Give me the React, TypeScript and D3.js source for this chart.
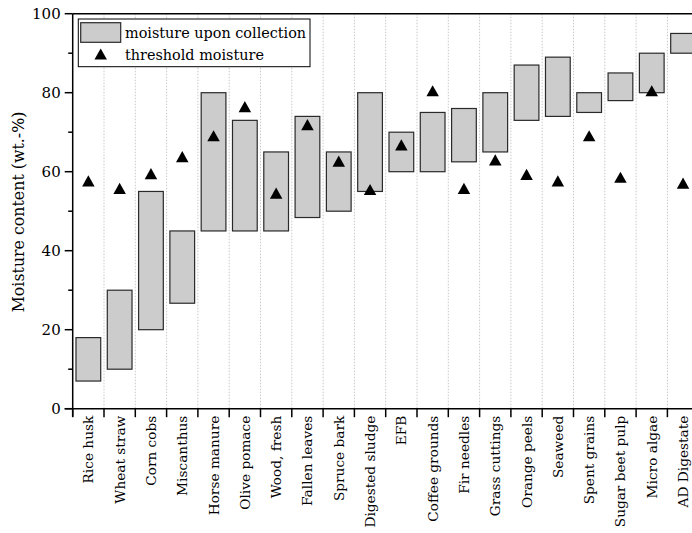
import React, { useEffect, useRef } from "react";
import * as d3 from "d3";

const categories = [
  "Rice husk", "Wheat straw", "Corn cobs", "Miscanthus", "Horse manure",
  "Olive pomace", "Wood, fresh", "Fallen leaves", "Spruce bark", "Digested sludge",
  "EFB", "Coffee grounds", "Fir needles", "Grass cuttings", "Orange peels",
  "Seaweed", "Spent grains", "Sugar beet pulp", "Micro algae", "AD Digestate",
];
// moisture upon collection: range low..high (wt.-%)
const moistureLow = [7, 10, 20, 26.7, 45, 45, 45, 48.4, 50, 55, 60, 60, 62.5, 65, 73, 74, 75, 78, 80, 90];
const moistureHigh = [18, 30, 55, 45, 80, 73, 65, 74, 65, 80, 70, 75, 76, 80, 87, 89, 80, 85, 90, 95];
// threshold moisture (wt.-%)
const threshold = [57.7, 55.8, 59.5, 63.8, 69.1, 76.5, 54.6, 71.9, 62.7, 55.5, 66.8, 80.5, 55.8, 63.0, 59.3, 57.7, 69.1, 58.6, 80.5, 57.1];
const yTicks = [0, 20, 40, 60, 80, 100];
const yMinorTicks = [10, 30, 50, 70, 90];

const W = 692;
const H = 533;
const FONT = "'DejaVu Serif', serif";

export default function App() {
  const ref = useRef<SVGSVGElement>(null);

  useEffect(() => {
    const svg = d3.select(ref.current);
    svg.selectAll("*").remove();

    const left = 72.7, right = 698.7, top = 13.7, bottom = 408.7;
    const x = d3.scaleBand<string>().domain(categories).range([left, right]).paddingInner(0.21).paddingOuter(0.105);
    const y = d3.scaleLinear().domain([0, 100]).range([bottom, top]);
    const step = x.step();
    const boundaries = d3.range(categories.length + 1).map((i) => left + i * step);

    const g = svg.append("g");

    // vertical dotted grid at category boundaries
    g.selectAll("line.grid")
      .data(boundaries.slice(1))
      .join("line")
      .attr("x1", (d) => d).attr("x2", (d) => d)
      .attr("y1", top).attr("y2", bottom)
      .attr("stroke", "#c8c8c8").attr("stroke-width", 1)
      .attr("stroke-dasharray", "1.5,1.5");

    // range bars
    g.selectAll("rect.bar")
      .data(categories)
      .join("rect")
      .attr("x", (d) => x(d)!)
      .attr("width", x.bandwidth())
      .attr("y", (_, i) => y(moistureHigh[i]))
      .attr("height", (_, i) => y(moistureLow[i]) - y(moistureHigh[i]))
      .attr("fill", "#cccccc").attr("stroke", "#2a2a2a").attr("stroke-width", 1.2);

    // threshold triangles
    const tri = (cx: number, cy: number, w = 12.5, h = 11.2) =>
      `M${cx},${cy - h / 2}L${cx + w / 2},${cy + h / 2}L${cx - w / 2},${cy + h / 2}Z`;
    g.selectAll("path.tri")
      .data(categories)
      .join("path")
      .attr("d", (d, i) => tri(x(d)! + x.bandwidth() / 2, y(threshold[i])))
      .attr("fill", "#000");

    // y axis
    const yAxis = g.append("g");
    yAxis.append("line").attr("x1", left).attr("x2", left).attr("y1", top).attr("y2", bottom + 8)
      .attr("stroke", "#000").attr("stroke-width", 1.5);
    yAxis.selectAll("line.maj").data(yTicks).join("line")
      .attr("x1", left - 8).attr("x2", left).attr("y1", (d) => y(d)).attr("y2", (d) => y(d))
      .attr("stroke", "#000").attr("stroke-width", 1.5);
    yAxis.selectAll("line.min").data(yMinorTicks).join("line")
      .attr("x1", left - 4.5).attr("x2", left).attr("y1", (d) => y(d)).attr("y2", (d) => y(d))
      .attr("stroke", "#000").attr("stroke-width", 1.5);
    yAxis.selectAll("text").data(yTicks).join("text")
      .attr("x", left - 12).attr("y", (d) => y(d)).attr("dy", "0.35em")
      .attr("text-anchor", "end").attr("font-family", FONT).attr("font-size", 15)
      .attr("fill", "#000").text((d) => d);

    // top border
    g.append("line").attr("x1", left).attr("x2", right).attr("y1", top).attr("y2", top)
      .attr("stroke", "#000").attr("stroke-width", 1.5);

    // x axis
    const xAxis = g.append("g");
    xAxis.append("line").attr("x1", left - 8).attr("x2", right).attr("y1", bottom).attr("y2", bottom)
      .attr("stroke", "#000").attr("stroke-width", 1.5);
    xAxis.selectAll("line.tick").data(boundaries).join("line")
      .attr("x1", (d) => d).attr("x2", (d) => d).attr("y1", bottom).attr("y2", bottom + 8.5)
      .attr("stroke", "#000").attr("stroke-width", 1.5);
    xAxis.selectAll("text").data(categories).join("text")
      .attr("transform", (d) => `translate(${x(d)! + x.bandwidth() / 2 + 5},${bottom + 7}) rotate(-90)`)
      .attr("text-anchor", "end").attr("font-family", FONT).attr("font-size", 13.7)
      .attr("fill", "#000").text((d) => d);

    // y title
    g.append("text")
      .attr("transform", `translate(${24},${212}) rotate(-90)`)
      .attr("text-anchor", "middle").attr("font-family", FONT).attr("font-size", 15.8)
      .attr("fill", "#000").text("Moisture content (wt.-%)");

    // legend
    const lg = g.append("g");
    lg.append("rect").attr("x", 78.3).attr("y", 19).attr("width", 231.7).attr("height", 47.7)
      .attr("fill", "#fff").attr("stroke", "#000").attr("stroke-width", 1);
    lg.append("rect").attr("x", 80.7).attr("y", 22.7).attr("width", 40).attr("height", 19.6)
      .attr("fill", "#cccccc").attr("stroke", "#2a2a2a").attr("stroke-width", 1.2);
    lg.append("path").attr("d", tri(100.7, 54)).attr("fill", "#000");
    lg.append("text").attr("x", 125).attr("y", 37.5).attr("font-family", FONT).attr("font-size", 14.4)
      .attr("fill", "#000").text("moisture upon collection");
    lg.append("text").attr("x", 125).attr("y", 60).attr("font-family", FONT).attr("font-size", 14.4)
      .attr("fill", "#000").text("threshold moisture");
  }, []);

  return (
    <svg ref={ref} width={W} height={H}
      style={{ position: "absolute", left: 0, top: 0, background: "#fff" }} />
  );
}
